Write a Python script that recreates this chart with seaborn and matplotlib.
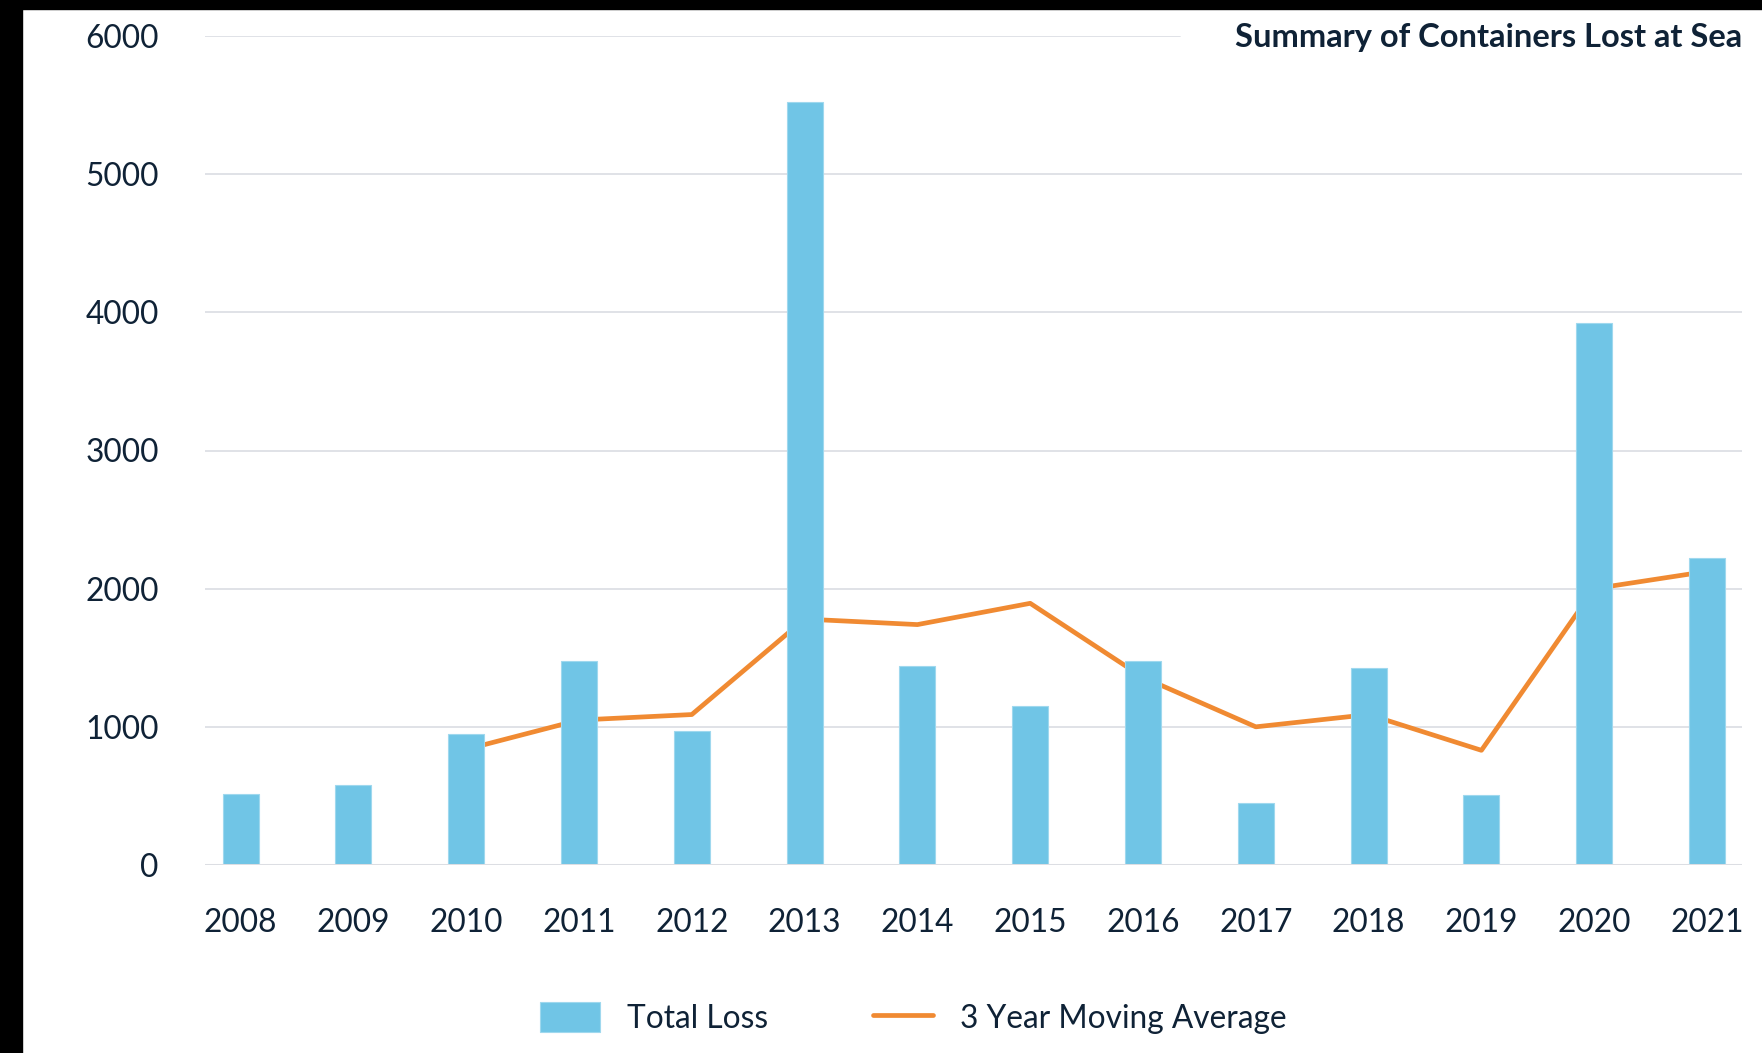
import numpy as np
import pandas as pd
import matplotlib
matplotlib.use("Agg")
import matplotlib.pyplot as plt
from matplotlib.patches import Rectangle
import seaborn as sns

# ---- data ----
years = ["2008", "2009", "2010", "2011", "2012", "2013", "2014",
         "2015", "2016", "2017", "2018", "2019", "2020", "2021"]
total_loss = [512, 577, 951, 1480, 967, 5520, 1439,
              1154, 1480, 447, 1423, 510, 3926, 2222]
moving_avg = [np.nan, np.nan, 837, 1049, 1089, 1780, 1740,
              1894, 1358, 1000, 1089, 830, 2000, 2125]
y_ticks = [0, 1000, 2000, 3000, 4000, 5000, 6000]
title = "Summary of Containers Lost at Sea"
bar_label = "Total Loss"
line_label = "3 Year Moving Average"

sns.set_theme(style="white")
plt.rcParams["font.family"] = ["Lato", "DejaVu Sans"]

TEXT = "#0f2236"
BLUE = "#70c5e6"
ORANGE = "#f08a32"
GRID = "#e0e2e7"
FS = 22.8

W, H = 1762, 1053
fig = plt.figure(figsize=(W / 100, H / 100), dpi=100)
fig.patch.set_facecolor("white")

ax_left, ax_right = 204.5 / W, 1742 / W
ax_bottom, ax_top = 1 - 865 / H, 1 - 36 / H
ax = fig.add_axes([ax_left, ax_bottom, ax_right - ax_left, ax_top - ax_bottom])

df = pd.DataFrame({"year": years, "loss": total_loss, "avg": moving_avg})
df["pos"] = np.arange(len(df))

sns.barplot(data=df, x="year", y="loss", color=BLUE, saturation=1,
            width=0.32, ax=ax, label=bar_label, zorder=3,
            edgecolor="#9fd8ee", linewidth=0.8)
line_df = df.dropna(subset=["avg"])
sns.lineplot(data=line_df, x="pos", y="avg", color=ORANGE, linewidth=3.4,
             ax=ax, label=line_label, zorder=2, sort=False)

ax.set_xlim(-0.32, len(years) - 1 + 0.31)
ax.set_ylim(0, 6000)
ax.set_xticks(range(len(years)))
ax.set_xticklabels(years)
ax.set_yticks(y_ticks)
ax.set_yticklabels([str(t) for t in y_ticks])
ax.set_xlabel("")
ax.set_ylabel("")
for s in ax.spines.values():
    s.set_visible(False)
ax.grid(False)

# gridlines (top one stops short to leave room for the title)
top_xmax = (1180 - 204.5) / (1742 - 204.5)
for t in y_ticks:
    if t == 0:
        ax.axhline(t, color="#dcdee3", lw=2.2, zorder=4)
    elif t == 6000:
        ax.axhline(t, xmin=0, xmax=top_xmax, color=GRID, lw=1.4, zorder=0)
    else:
        ax.axhline(t, color=GRID, lw=1.4, zorder=0)

ax.tick_params(axis="both", length=0, labelsize=FS, labelcolor=TEXT)
ax.tick_params(axis="y", pad=33)
ax.tick_params(axis="x", pad=31)

fig.text(1742 / W, 1 - 37 / H, title, ha="right", va="center",
         fontsize=23.5, fontweight="bold", color=TEXT)

handles, labels = ax.get_legend_handles_labels()
order = [labels.index(bar_label), labels.index(line_label)]
leg = ax.legend([handles[i] for i in order], [labels[i] for i in order],
                loc="center", bbox_to_anchor=(913 / W, 1 - 1018 / H),
                bbox_transform=fig.transFigure, ncol=2, frameon=False,
                fontsize=FS, handlelength=1.9, handleheight=1.1,
                handletextpad=0.85, columnspacing=3.3)
for txt in leg.get_texts():
    txt.set_color(TEXT)

# black strips at left and top edges
fig.patches.append(Rectangle((0, 0), 22 / W, 1, transform=fig.transFigure,
                             color="black", zorder=10))
fig.patches.append(Rectangle((0, 1 - 9 / H), 1, 9 / H, transform=fig.transFigure,
                             color="black", zorder=10))

fig.savefig("out.png", dpi=100, facecolor="white")
